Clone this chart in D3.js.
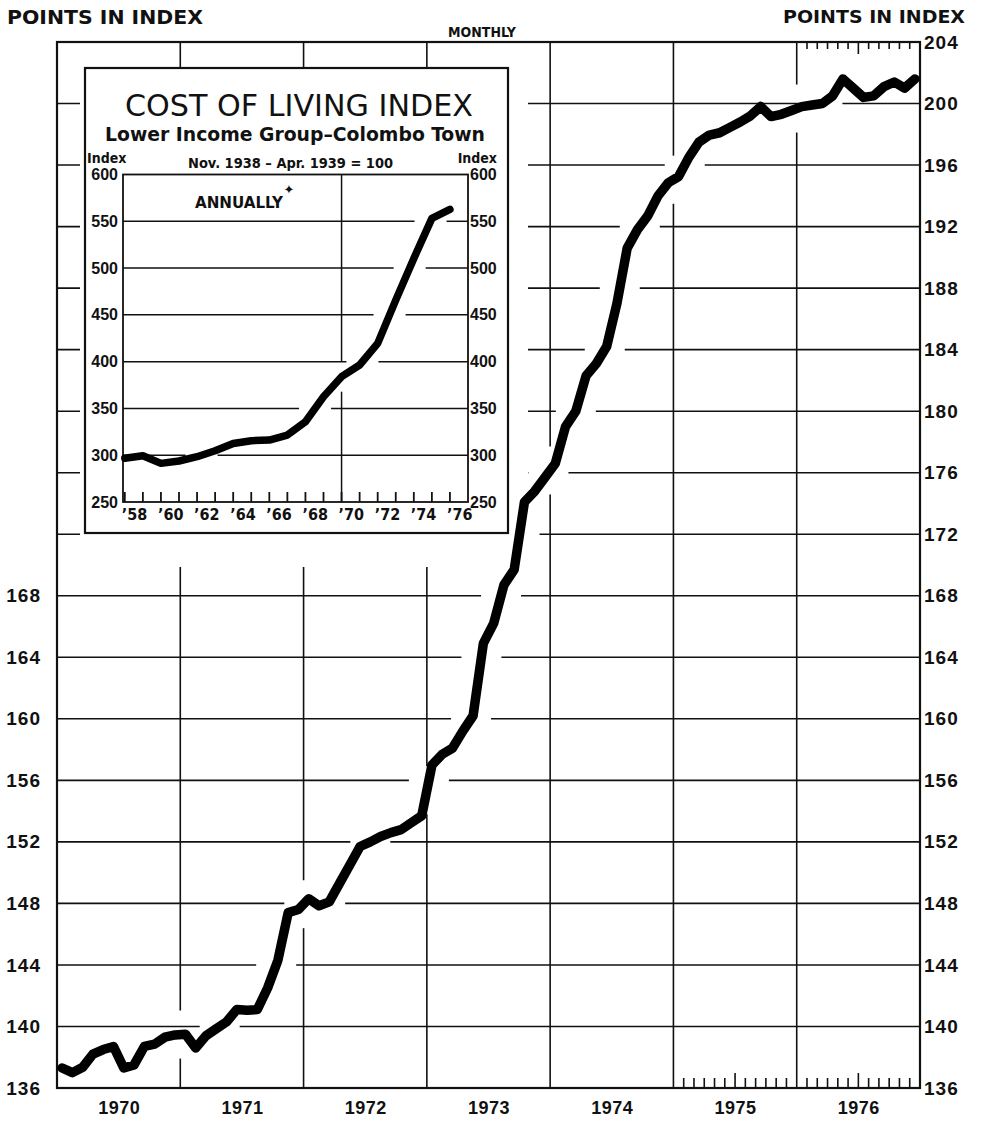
<!DOCTYPE html>
<html>
<head>
<meta charset="utf-8">
<script src="https://cdn.jsdelivr.net/npm/d3@7"></script>
<style>
  body { margin: 0; background: #fff; }
  svg { display: block; font-family: 'DejaVu Sans Condensed', 'DejaVu Sans', sans-serif; }
  .lbl { font-weight: bold; fill: #111; }
</style>
</head>
<body>
<svg id="chart"></svg>
<script>
// monthly index, Jan 1970 - Dec 1976
const years = [1970, 1971, 1972, 1973, 1974, 1975, 1976];
const monthly = [
  137.3, 137.0, 137.35, 138.2, 138.5, 138.7, 137.3, 137.5, 138.7, 138.85, 139.3, 139.45,
  139.5, 138.6, 139.4, 139.85, 140.3, 141.1, 141.05, 141.1, 142.5, 144.3, 147.4, 147.6,
  148.3, 147.85, 148.1, 149.3, 150.5, 151.7, 152.0, 152.35, 152.6, 152.8, 153.25, 153.7,
  157.0, 157.7, 158.1, 159.2, 160.2, 164.9, 166.2, 168.7, 169.7, 174.1, 174.8, 175.7,
  176.6, 179.0, 180.0, 182.3, 183.1, 184.2, 187.0, 190.6, 191.8, 192.7, 194.0, 194.85,
  195.25, 196.5, 197.5, 197.95, 198.1, 198.45, 198.8, 199.2, 199.8, 199.15, 199.3, 199.55,
  199.8, 199.9, 200.0, 200.5, 201.6, 201.0, 200.4, 200.5, 201.1, 201.4, 201.0, 201.6
];
const rightTicks = [136, 140, 144, 148, 152, 156, 160, 164, 168, 172, 176, 180, 184, 188, 192, 196, 200, 204];
const leftTicks = [136, 140, 144, 148, 152, 156, 160, 164, 168];

// inset: annual index 1958 - 1976
const annualYears = [1958, 1959, 1960, 1961, 1962, 1963, 1964, 1965, 1966, 1967,
  1968, 1969, 1970, 1971, 1972, 1973, 1974, 1975, 1976];
const annual = [296.7, 299.5, 291.3, 293.8, 298.4, 304.8, 312.6, 315.5, 316.2, 321.5,
  335.8, 362.5, 383.9, 396.4, 419.5, 465.8, 510.3, 553.1, 562.7];
const insetTicks = [250, 300, 350, 400, 450, 500, 550, 600];
const insetYearLabels = ["’58", "’60", "’62", "’64", "’66", "’68", "’70", "’72", "’74", "’76"];

const W = 985, H = 1123;
const svg = d3.select('#chart').attr('width', W).attr('height', H);
svg.append('rect').attr('width', W).attr('height', H).attr('fill', '#fff');

const x = d3.scaleLinear().domain([1970, 1977]).range([57, 920]);
const y = d3.scaleLinear().domain([136, 204]).range([1088, 42]);

const pts = monthly.map((v, i) => [x(1970 + (i + 0.5) / 12), y(v)]);

// where the curve crosses a level / a vertical
function crossH(p, Y) {
  const out = [];
  for (let i = 1; i < p.length; i++) {
    const [x0, y0] = p[i - 1], [x1, y1] = p[i];
    if ((y0 - Y) * (y1 - Y) <= 0 && y0 !== y1) out.push(x0 + (Y - y0) / (y1 - y0) * (x1 - x0));
  }
  return out;
}
function crossV(p, X) {
  const out = [];
  for (let i = 1; i < p.length; i++) {
    const [x0, y0] = p[i - 1], [x1, y1] = p[i];
    if ((x0 - X) * (x1 - X) <= 0 && x0 !== x1) out.push(y0 + (X - x0) / (x1 - x0) * (y1 - y0));
  }
  return out;
}
function pieces(a, b, cuts, g) {
  const gaps = cuts.map(c => [c - g, c + g]).sort((m, n) => m[0] - n[0]);
  const res = [];
  let s = a;
  gaps.forEach(([g0, g1]) => {
    if (g1 < s) return;
    if (g0 > s) res.push([s, Math.min(g0, b)]);
    s = Math.max(s, g1);
  });
  if (s < b) res.push([s, b]);
  return res.filter(r => r[1] > r[0]);
}

// gridlines
const grid = svg.append('g').attr('stroke', '#111').attr('stroke-width', 1.6);
rightTicks.slice(1, -1).forEach(v => {
  pieces(x.range()[0], x.range()[1], crossH(pts, y(v)), 20).forEach(([a, b]) => {
    grid.append('line').attr('x1', a).attr('x2', b).attr('y1', y(v)).attr('y2', y(v));
  });
});
years.slice(1).forEach(yr => {
  pieces(y.range()[1], y.range()[0], crossV(pts, x(yr)), 24).forEach(([a, b]) => {
    grid.append('line').attr('x1', x(yr)).attr('x2', x(yr)).attr('y1', a).attr('y2', b);
  });
});

// clearance round the inset
svg.append('rect').attr('x', 80).attr('y', 67).attr('width', 448).attr('height', 500).attr('fill', '#fff');

// frame
svg.append('rect')
  .attr('x', x.range()[0]).attr('y', y.range()[1])
  .attr('width', x.range()[1] - x.range()[0]).attr('height', y.range()[0] - y.range()[1])
  .attr('fill', 'none').attr('stroke', '#111').attr('stroke-width', 2.2);

// monthly ticks (1976 top, 1975-76 bottom)
const ticks = svg.append('g').attr('stroke', '#111').attr('stroke-width', 1.6);
d3.range(1, 12).forEach(m => {
  const xx = x(1976 + m / 12);
  ticks.append('line').attr('x1', xx).attr('x2', xx)
    .attr('y1', y(204)).attr('y2', y(204) + (m === 6 ? 12 : 7));
});
d3.range(1, 24).filter(m => m !== 12).forEach(m => {
  const xx = x(1975 + m / 12);
  ticks.append('line').attr('x1', xx).attr('x2', xx)
    .attr('y1', y(136)).attr('y2', y(136) - (m % 12 === 6 ? 15 : 10));
});

// axes labels
const rAxis = svg.append('g').attr('transform', `translate(${x.range()[1]},0)`)
  .call(d3.axisRight(y).tickValues(rightTicks).tickSize(0).tickPadding(4));
const lAxis = svg.append('g').attr('transform', `translate(${x.range()[0]},0)`)
  .call(d3.axisLeft(y).tickValues(leftTicks).tickSize(0).tickPadding(16));
const bAxis = svg.append('g').attr('transform', `translate(0,${y.range()[0]})`)
  .call(d3.axisBottom(x).tickValues(years.map(d => d + 0.5)).tickFormat(d => Math.floor(d)).tickSize(0).tickPadding(13));
[rAxis, lAxis, bAxis].forEach(a => {
  a.select('.domain').remove();
  a.selectAll('text').attr('class', 'lbl').style('font-family', null)
    .attr('font-size', null).style('font-size', '19px').style('letter-spacing', '1px');
});
bAxis.selectAll('text').style('font-size', '18px').style('letter-spacing', '0.5px');

svg.append('text').attr('class', 'lbl').attr('x', 7).attr('y', 24)
  .attr('font-size', 19).attr('textLength', 196).attr('lengthAdjust', 'spacingAndGlyphs')
  .text('POINTS IN INDEX');
svg.append('text').attr('class', 'lbl').attr('x', 783).attr('y', 23)
  .attr('font-size', 18).attr('textLength', 182).attr('lengthAdjust', 'spacingAndGlyphs')
  .text('POINTS IN INDEX');
svg.append('text').attr('class', 'lbl').attr('x', 482).attr('y', 37)
  .attr('text-anchor', 'middle').attr('font-size', 14).text('MONTHLY');

// ---------- inset ----------
const inset = svg.append('g');
inset.append('rect').attr('x', 85).attr('y', 68).attr('width', 423).attr('height', 465)
  .attr('fill', '#fff').attr('stroke', '#111').attr('stroke-width', 2.2);

const ix = d3.scaleLinear().domain([1957.9, 1977]).range([123, 468]);
const iy = d3.scaleLinear().domain([250, 600]).range([502, 174.5]);
const ipts = annual.map((v, i) => [ix(annualYears[i]), iy(v)]);

const igrid = inset.append('g').attr('stroke', '#111').attr('stroke-width', 1.5);
insetTicks.slice(1, -1).forEach(v => {
  pieces(ix.range()[0], ix.range()[1], crossH(ipts, iy(v)), 16).forEach(([a, b]) => {
    igrid.append('line').attr('x1', a).attr('x2', b).attr('y1', iy(v)).attr('y2', iy(v));
  });
});
pieces(iy.range()[1], iy.range()[0], crossV(ipts, ix(1970)), 15).forEach(([a, b]) => {
  igrid.append('line').attr('x1', ix(1970)).attr('x2', ix(1970)).attr('y1', a).attr('y2', b);
});
inset.append('rect').attr('x', ix.range()[0]).attr('y', iy.range()[1])
  .attr('width', ix.range()[1] - ix.range()[0]).attr('height', iy.range()[0] - iy.range()[1])
  .attr('fill', 'none').attr('stroke', '#111').attr('stroke-width', 1.8);
annualYears.forEach(yr => {
  inset.append('line').attr('x1', ix(yr)).attr('x2', ix(yr))
    .attr('y1', iy(250)).attr('y2', iy(250) - 10).attr('stroke', '#111').attr('stroke-width', 1.8);
});

const iL = inset.append('g').attr('transform', `translate(${ix.range()[0]},0)`)
  .call(d3.axisLeft(iy).tickValues(insetTicks).tickSize(0).tickPadding(5));
const iR = inset.append('g').attr('transform', `translate(${ix.range()[1]},0)`)
  .call(d3.axisRight(iy).tickValues(insetTicks).tickSize(0).tickPadding(2));
[iL, iR].forEach(a => {
  a.select('.domain').remove();
  a.selectAll('text').attr('class', 'lbl').style('font-family', null)
    .attr('font-size', null).style('font-size', '16px');
});
insetYearLabels.forEach((t, i) => {
  inset.append('text').attr('class', 'lbl').attr('x', ix(annualYears[i * 2]) - 3).attr('y', iy(250) + 18)
    .attr('font-size', 16).text(t);
});

inset.append('path').datum(ipts)
  .attr('d', d3.line()).attr('fill', 'none').attr('stroke', '#000')
  .attr('stroke-width', 7.5).attr('stroke-linejoin', 'round').attr('stroke-linecap', 'round');

inset.append('text').attr('x', 299).attr('y', 116).attr('text-anchor', 'middle')
  .attr('font-size', 30).attr('fill', '#111').style('font-family', "'DejaVu Sans', sans-serif")
  .attr('textLength', 348).attr('lengthAdjust', 'spacingAndGlyphs')
  .text('COST OF LIVING INDEX');
inset.append('text').attr('class', 'lbl').attr('x', 295).attr('y', 141).attr('text-anchor', 'middle')
  .attr('font-size', 19).attr('textLength', 380).attr('lengthAdjust', 'spacingAndGlyphs')
  .style('font-weight', 600)
  .text('Lower  Income  Group–Colombo  Town');
inset.append('text').attr('class', 'lbl').attr('x', 188).attr('y', 168)
  .attr('font-size', 14).attr('textLength', 205).attr('lengthAdjust', 'spacingAndGlyphs')
  .text('Nov. 1938 – Apr. 1939 = 100');
inset.append('text').attr('class', 'lbl').attr('x', 87).attr('y', 163).attr('font-size', 14).text('Index');
inset.append('text').attr('class', 'lbl').attr('x', 497).attr('y', 163)
  .attr('text-anchor', 'end').attr('font-size', 14).text('Index');
inset.append('text').attr('class', 'lbl').attr('x', 195).attr('y', 208)
  .attr('font-size', 16).attr('textLength', 88).attr('lengthAdjust', 'spacingAndGlyphs')
  .style('font-weight', 600).text('ANNUALLY');
inset.append('text').attr('x', 289).attr('y', 194).attr('text-anchor', 'middle')
  .attr('font-size', 13).attr('fill', '#111').style('font-family', "'DejaVu Sans', sans-serif")
  .text('✦');

// ---------- monthly line ----------
svg.append('path').datum(pts)
  .attr('d', d3.line()).attr('fill', 'none').attr('stroke', '#000')
  .attr('stroke-width', 9.5).attr('stroke-linejoin', 'round').attr('stroke-linecap', 'round');
</script>
</body>
</html>
